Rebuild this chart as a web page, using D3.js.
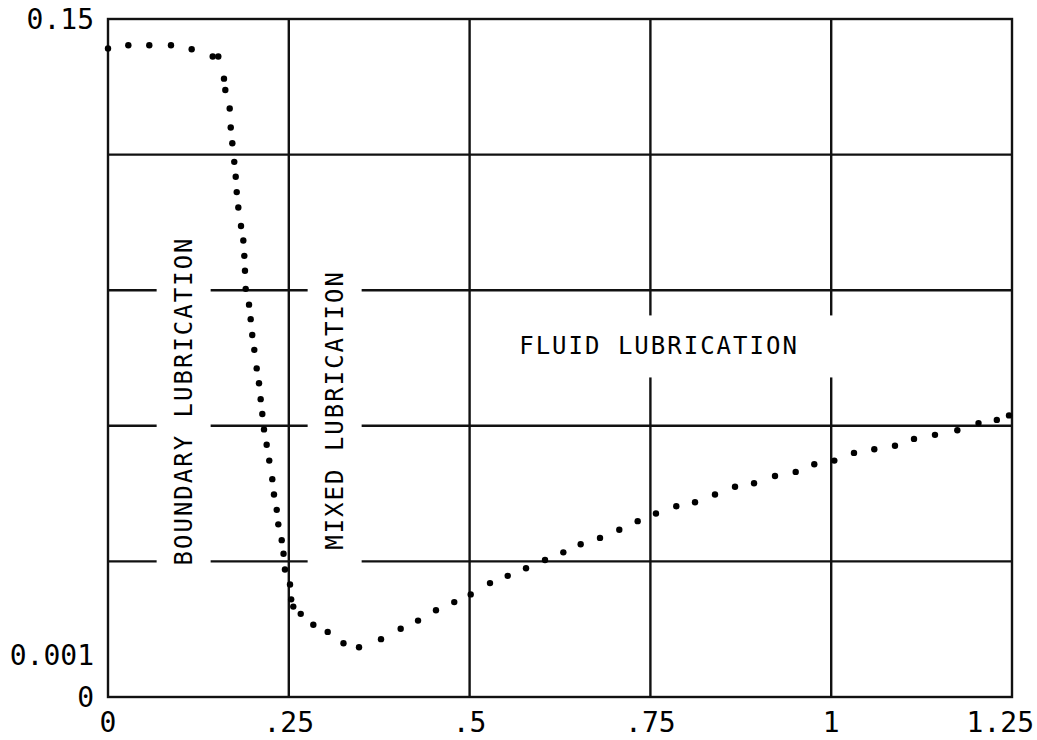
<!DOCTYPE html>
<html>
<head>
<meta charset="utf-8">
<script src="https://cdn.jsdelivr.net/npm/d3@7"></script>
<style>
  body { margin: 0; background: #fff; }
  text { font-family: "DejaVu Sans Mono", "Liberation Mono", monospace; fill: #000; }
</style>
</head>
<body>
<svg id="chart"></svg>
<script>
// DATA (schematic friction curve)
const xs = [0.0, 0.0281, 0.0571, 0.0871, 0.1157, 0.1448, 0.1525, 0.1604, 0.1622, 0.1683,
  0.1697, 0.1719, 0.1746, 0.1766, 0.1780, 0.1802, 0.1839, 0.1871, 0.1885, 0.1894,
  0.1904, 0.1950, 0.1973, 0.1995, 0.2023, 0.2056, 0.2088, 0.2111, 0.2134, 0.2157,
  0.2194, 0.2230, 0.2272, 0.2295, 0.2333, 0.2355, 0.2402, 0.2427, 0.2447, 0.2517,
  0.2533, 0.2562, 0.2665, 0.2839, 0.3038, 0.3256, 0.3471, 0.3775, 0.4047, 0.4287,
  0.4535, 0.4788, 0.5015, 0.5282, 0.5527, 0.5780, 0.6043, 0.6296, 0.6536, 0.6803,
  0.7070, 0.7324, 0.7577, 0.7858, 0.8117, 0.8393, 0.8670, 0.8933, 0.9223, 0.9509,
  0.9766, 1.0043, 1.0315, 1.0596, 1.0882, 1.1145, 1.1435, 1.1744, 1.2037, 1.2290, 1.2459]
const ys = [0.1435, 0.1442, 0.1442, 0.1442, 0.1433, 0.1417, 0.1417, 0.1368, 0.1343, 0.1302,
  0.1260, 0.1225, 0.1184, 0.1151, 0.1117, 0.1083, 0.1042, 0.1010, 0.0976, 0.0943,
  0.0903, 0.0868, 0.0836, 0.0801, 0.0768, 0.0727, 0.0694, 0.0659, 0.0626, 0.0592,
  0.0558, 0.0523, 0.0482, 0.0448, 0.0414, 0.0382, 0.0347, 0.0317, 0.0282, 0.0249,
  0.0216, 0.0200, 0.0184, 0.0160, 0.0144, 0.0119, 0.0110, 0.0128, 0.0151, 0.0169,
  0.0192, 0.0210, 0.0227, 0.0252, 0.0268, 0.0285, 0.0303, 0.0320, 0.0338, 0.0352,
  0.0370, 0.0389, 0.0406, 0.0422, 0.0431, 0.0448, 0.0465, 0.0473, 0.0489, 0.0498,
  0.0515, 0.0523, 0.0540, 0.0548, 0.0556, 0.0571, 0.0580, 0.0590, 0.0606, 0.0613, 0.0623]

const xTickValues = [0, 0.25, 0.5, 0.75, 1, 1.25]
const xTickLabels = ["0", ".25", ".5", ".75", "1", "1.25"]
const yTickValues = [0, 0.0093, 0.15]
const yTickLabels = ["0", "0.001", "0.15"]
const yGridValues = [0.03, 0.06, 0.09, 0.12]

const regionNames = ["BOUNDARY LUBRICATION", "MIXED LUBRICATION", "FLUID LUBRICATION"]
const regionX = [0.1037, 0.3125, 0.7619]
const regionY = [0.0655, 0.0635, 0.0777]
const regionVertical = [true, true, false]

// LAYOUT
const WIDTH = 1037
const HEIGHT = 740
const PLOT_LEFT = 108
const PLOT_RIGHT = 1012
const PLOT_TOP = 19
const PLOT_BOTTOM = 697
const LINE_WIDTH = 2.4
const DOT_RADIUS = 3.2

const svg = d3.select("#chart")
  .attr("width", WIDTH)
  .attr("height", HEIGHT)

const x = d3.scaleLinear().domain([0, 1.25]).range([PLOT_LEFT, PLOT_RIGHT])
const y = d3.scaleLinear().domain([0, 0.15]).range([PLOT_BOTTOM, PLOT_TOP])

// grid
const grid = svg.append("g")
  .attr("stroke", "#111")
  .attr("stroke-width", LINE_WIDTH)

grid.selectAll(".vgrid")
  .data(xTickValues.slice(1, -1))
  .join("line")
  .attr("x1", d => x(d)).attr("x2", d => x(d))
  .attr("y1", y(0.15)).attr("y2", y(0))

grid.selectAll(".hgrid")
  .data(yGridValues)
  .join("line")
  .attr("x1", x(0)).attr("x2", x(1.25))
  .attr("y1", d => y(d)).attr("y2", d => y(d))

// region labels with white boxes that break the grid
const labels = svg.append("g")
  .selectAll("g")
  .data(regionNames)
  .join("g")
  .attr("transform", (d, i) => `translate(${x(regionX[i])},${y(regionY[i])})` + (regionVertical[i] ? " rotate(-90)" : ""))

labels.append("rect").attr("fill", "#fff")

labels.append("text")
  .attr("text-anchor", "middle")
  .attr("dy", "0.36em")
  .style("font-size", "24px")
  .style("letter-spacing", "2px")
  .text(d => d)

labels.each(function (d, i) {
  const g = d3.select(this)
  const b = g.select("text").node().getBBox()
  const padLen = regionVertical[i] ? 16 : 40
  const padSide = regionVertical[i] ? 18 : 22
  g.select("rect")
    .attr("x", b.x - padLen)
    .attr("y", b.y + b.height / 2 - 9 - padSide)
    .attr("width", b.width + 2 * padLen)
    .attr("height", 18 + 2 * padSide)
})

// frame
svg.append("rect")
  .attr("x", x(0)).attr("y", y(0.15))
  .attr("width", x(1.25) - x(0))
  .attr("height", y(0) - y(0.15))
  .attr("fill", "none")
  .attr("stroke", "#111")
  .attr("stroke-width", LINE_WIDTH)

// dotted curve
svg.append("g")
  .selectAll("circle")
  .data(xs)
  .join("circle")
  .attr("cx", d => x(d))
  .attr("cy", (d, i) => y(ys[i]))
  .attr("r", DOT_RADIUS)
  .attr("fill", "#000")

// tick labels (the last one is kept inside the page edge)
svg.append("g")
  .selectAll("text")
  .data(xTickValues)
  .join("text")
  .attr("x", (d, i) => i === xTickValues.length - 1 ? WIDTH - 3 : x(d))
  .attr("y", PLOT_BOTTOM + 25)
  .attr("dy", "0.36em")
  .attr("text-anchor", (d, i) => i === xTickValues.length - 1 ? "end" : "middle")
  .style("font-size", "28px")
  .text((d, i) => xTickLabels[i])

svg.append("g")
  .selectAll("text")
  .data(yTickValues)
  .join("text")
  .attr("x", PLOT_LEFT - 14)
  .attr("y", d => y(d))
  .attr("dy", "0.36em")
  .attr("text-anchor", "end")
  .style("font-size", "28px")
  .text((d, i) => yTickLabels[i])
</script>
</body>
</html>
